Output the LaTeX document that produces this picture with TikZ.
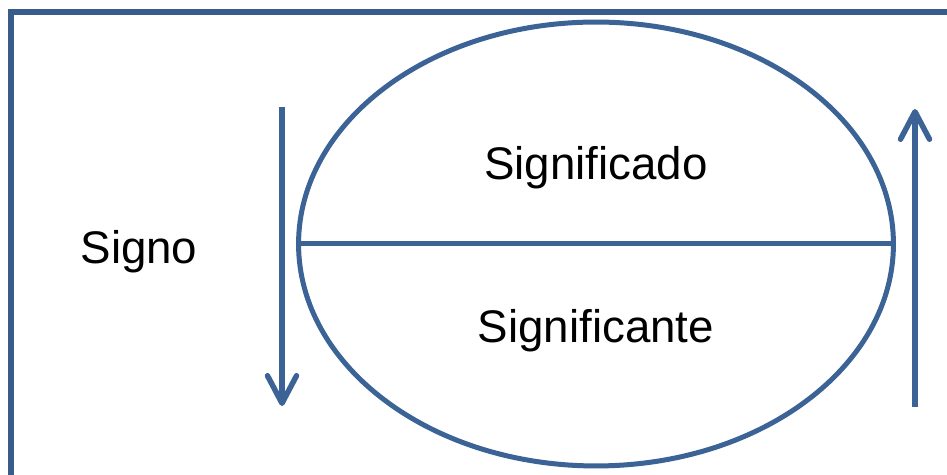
\documentclass[tikz,border=0pt]{standalone}
\usepackage{fontspec}
\setmainfont{Liberation Sans}
\usetikzlibrary{arrows.meta, positioning, shapes.geometric}
\definecolor{frameblue}{HTML}{385D8A}
\definecolor{signblue} {HTML}{3B6396}

\begin{document}
\begin{tikzpicture}[x=0.02cm, y=-0.02cm,
    label/.style={font=\fontsize{26}{30}\selectfont, inner sep=0pt},
    flow/.style={signblue, line width=0.11cm, -{Straight Barb[length=0.55cm, width=0.58cm, round]}}]
      \useasboundingbox (0,0) rectangle (947,475);
      \clip (0,0) rectangle (947,475);
      \draw[frameblue, line width=0.12cm] (11,480) -- (11,12) -- (960,12);
      \node[ellipse, draw=signblue, line width=0.1cm, minimum width=11.9cm,
            minimum height=8.88cm, inner sep=0pt] (sign) at (596,244) {};
      \draw[signblue, line width=0.1cm] (sign.west) -- (sign.east);
      \node[label] (signified) at (596,168) {Significado};
      \node[label] (signifier) at (596,331) {Significante};
      \node[label] (signo) at (139,252) {Signo};
      \coordinate (downtop) at (282,107);
      \coordinate (downend) at (282,406);
      \coordinate (upbot) at (915,407);
      \coordinate (uptop) at (915,109);
      \draw[flow] (downtop) -- (downend);
      \draw[flow] (upbot) -- (uptop);
    \end{tikzpicture}
\end{document}
